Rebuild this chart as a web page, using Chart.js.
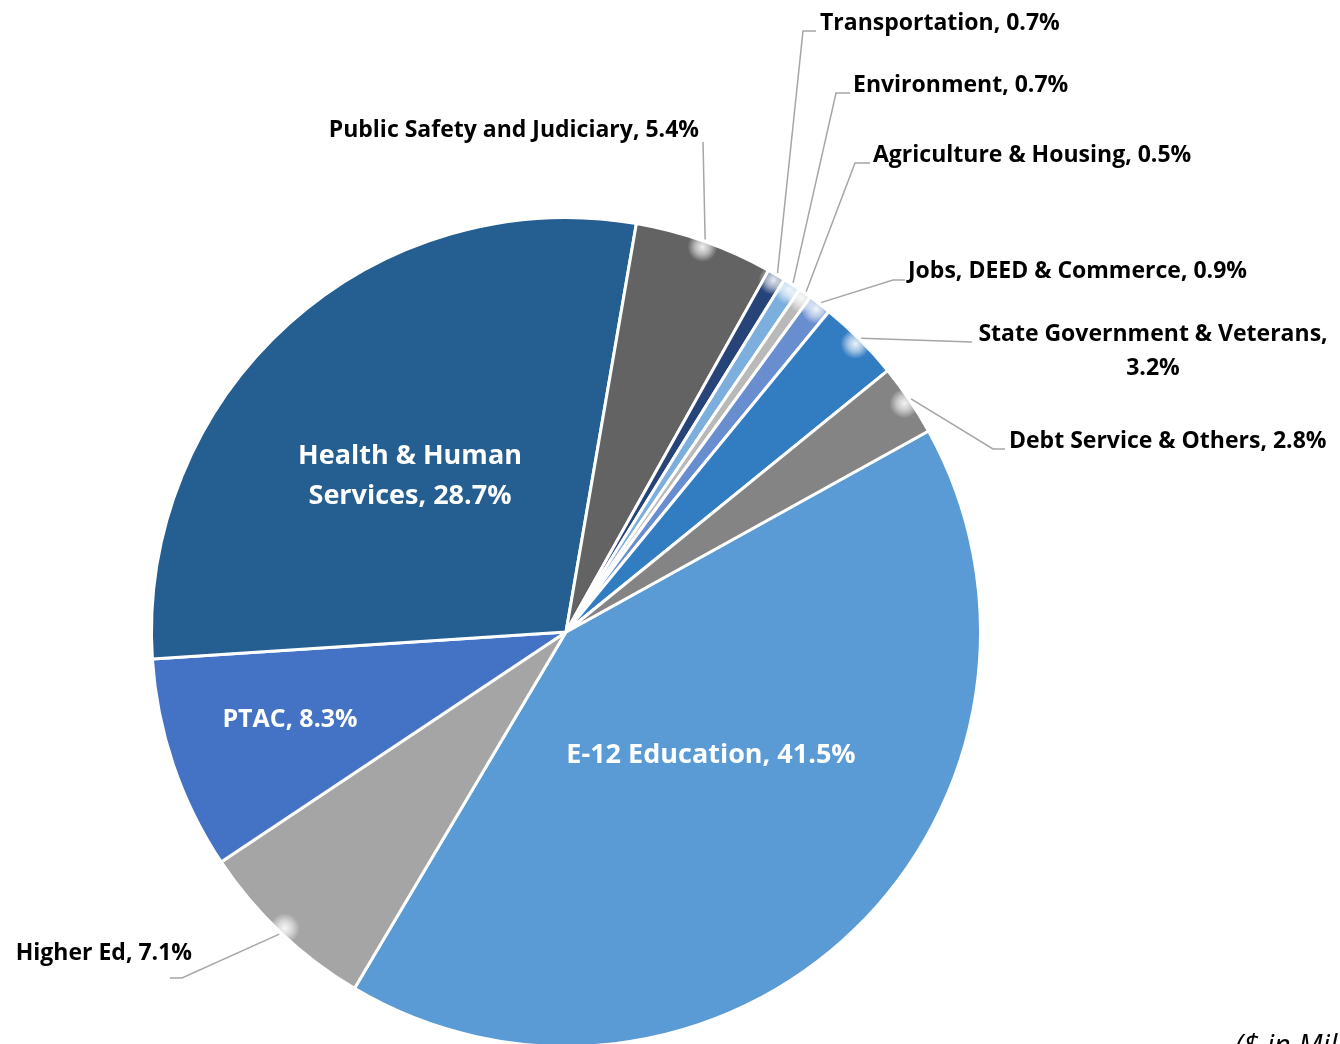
<!DOCTYPE html>
<html>
<head>
<meta charset="utf-8">
<script src="https://cdn.jsdelivr.net/npm/chart.js@4.4.0/dist/chart.umd.min.js"></script>
<style>
    html, body { margin: 0; padding: 0; background: #ffffff; overflow: hidden; }
    #wrap { position: absolute; left: 0; top: 0; width: 1340px; height: 1048px; }
</style>
</head>
<body>
<div id="wrap"><canvas id="budgetPie" width="1340" height="1048"></canvas></div>
<script>
//################### Data ###################
const categories = [
    'E-12 Education',
    'Higher Ed',
    'PTAC',
    'Health & Human Services',
    'Public Safety and Judiciary',
    'Transportation',
    'Environment',
    'Agriculture & Housing',
    'Jobs, DEED & Commerce',
    'State Government & Veterans',
    'Debt Service & Others'
];
const shares = [41.5, 7.1, 8.3, 28.7, 5.4, 0.7, 0.7, 0.5, 0.9, 3.2, 2.8];
const sliceColors = [
    '#5B9BD5', '#A5A5A5', '#4472C4', '#255E91', '#636363',
    '#264478', '#7CAFDD', '#B9B9B9', '#698ED0', '#327DC2', '#848484'
];
const footNote = '($ in Millions)';

//################### Label layout (where each label sits) ###################
// inside: text drawn on the slice; otherwise a leader goes arc -> elbow -> end
const labelLayout = [
    { inside: true, lines: ['E-12 Education, 41.5%'], x: 711, y: 755, size: 27 },
    { lines: ['Higher Ed, 7.1%'], x: 192, y: 953, align: 'right', elbow: [182, 978], end: [170, 978] },
    { inside: true, lines: ['PTAC, 8.3%'], x: 290, y: 720, size: 25 },
    { inside: true, lines: ['Health & Human', 'Services, 28.7%'], x: 410, y: 456, size: 27, lh: 40 },
    { lines: ['Public Safety and Judiciary, 5.4%'], x: 699, y: 130, align: 'right', elbow: [703, 142], end: [703, 142] },
    { lines: ['Transportation, 0.7%'], x: 820, y: 23, align: 'left', elbow: [803, 31], end: [816, 31] },
    { lines: ['Environment, 0.7%'], x: 853, y: 85, align: 'left', elbow: [836, 93], end: [850, 93] },
    { lines: ['Agriculture & Housing, 0.5%'], x: 873, y: 155, align: 'left', elbow: [855, 163], end: [870, 163] },
    { lines: ['Jobs, DEED & Commerce, 0.9%'], x: 908, y: 271, align: 'left', elbow: [893, 280], end: [905, 280] },
    { lines: ['State Government & Veterans,', '3.2%'], x: 1153, y: 334, align: 'center', lh: 34, elbow: [972, 342], end: [972, 342] },
    { lines: ['Debt Service & Others, 2.8%'], x: 1009, y: 441, align: 'left', elbow: [993, 449], end: [1005, 449] }
];

const FONT = '"Open Sans", Lato, sans-serif';

//################### Labels + leader lines plugin ###################
const pieLabels = {
    id: 'pieLabels',
    afterDatasetsDraw(chart) {
        const ctx = chart.ctx;
        const arcs = chart.getDatasetMeta(0).data;
        ctx.save();
        arcs.forEach((arc, i) => {
            const lay = labelLayout[i];
            if (!lay) return;
            if (!lay.inside) {
                const p = arc.getProps(['x', 'y', 'startAngle', 'endAngle', 'outerRadius'], true);
                const mid = (p.startAngle + p.endAngle) / 2;
                const sx = p.x + Math.cos(mid) * (p.outerRadius - 6);
                const sy = p.y + Math.sin(mid) * (p.outerRadius - 6);
                // soft white glow where the leader meets the slice
                const g = ctx.createRadialGradient(sx, sy, 0, sx, sy, 15);
                g.addColorStop(0, 'rgba(255,255,255,0.9)');
                g.addColorStop(0.5, 'rgba(255,255,255,0.55)');
                g.addColorStop(1, 'rgba(255,255,255,0)');
                ctx.fillStyle = g;
                ctx.beginPath();
                ctx.arc(sx, sy, 15, 0, Math.PI * 2);
                ctx.fill();

                const r = p.outerRadius + 2;
                ctx.strokeStyle = '#A6A6A6';
                ctx.lineWidth = 1.5;
                ctx.beginPath();
                ctx.moveTo(p.x + Math.cos(mid) * r, p.y + Math.sin(mid) * r);
                ctx.lineTo(lay.elbow[0], lay.elbow[1]);
                ctx.lineTo(lay.end[0], lay.end[1]);
                ctx.stroke();
            }
            ctx.fillStyle = lay.inside ? '#ffffff' : '#000000';
            ctx.font = 'bold ' + (lay.size || 23) + 'px ' + FONT;
            ctx.textAlign = lay.inside ? 'center' : lay.align;
            ctx.textBaseline = 'middle';
            const lh = lay.lh || 0;
            lay.lines.forEach((line, k) => ctx.fillText(line, lay.x, lay.y + k * lh));
        });

        // footnote, cut by the bottom edge as in the original
        ctx.fillStyle = '#000000';
        ctx.font = 'italic 29px ' + FONT;
        ctx.textAlign = 'left';
        ctx.textBaseline = 'alphabetic';
        ctx.fillText(footNote, 1235, 1055);
        ctx.restore();
    }
};

function createPieChart(label_set, data_set) {
    const pieCtx = document.getElementById('budgetPie').getContext('2d');
    new Chart(pieCtx, {
        type: 'pie',
        data: {
            labels: label_set,
            datasets: [{
                data: data_set,
                backgroundColor: sliceColors,
                borderColor: '#ffffff',
                borderWidth: 3,
            }]
        },
        options: {
            responsive: false,
            animation: false,
            devicePixelRatio: 1,
            rotation: 61,
            layout: {
                padding: { left: 149, right: 357, top: 216, bottom: 0 }
            },
            plugins: {
                legend: { display: false },
                tooltip: { enabled: false },
                title: { display: false }
            }
        },
        plugins: [pieLabels]
    });
}

window.onload = () => createPieChart(categories, shares);
</script>
</body>
</html>
